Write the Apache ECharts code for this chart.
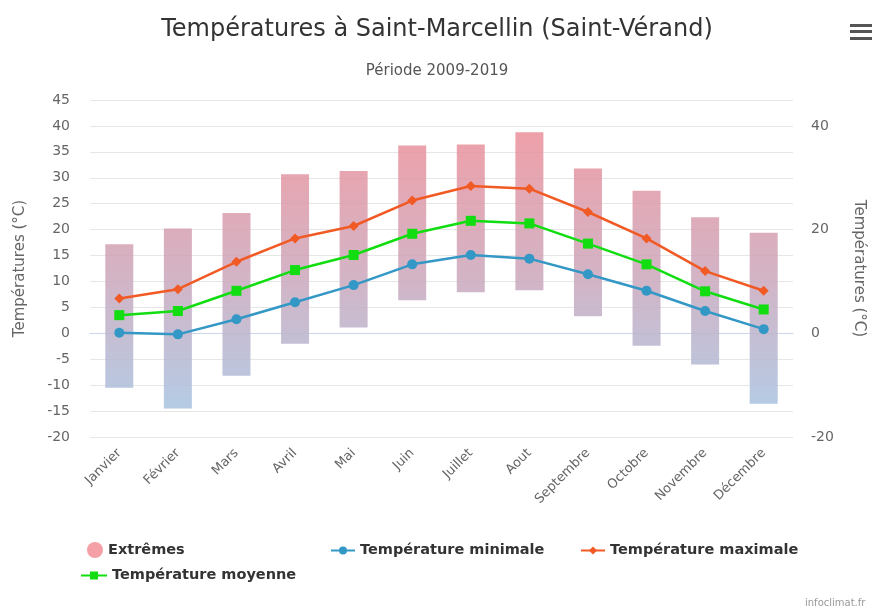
<!DOCTYPE html>
<html>
<head>
<meta charset="utf-8">
<script src="https://cdn.jsdelivr.net/npm/echarts@6/dist/echarts.min.js"></script>
<style>
html, body { margin: 0; padding: 0; background: #fff; }
#main { width: 874px; height: 607px; }
</style>
</head>
<body>
<div id="main"></div>
<script>
// données
var mois = ['Janvier', 'Février', 'Mars', 'Avril', 'Mai', 'Juin', 'Juillet', 'Aout', 'Septembre', 'Octobre', 'Novembre', 'Décembre'];
var extremeBas = [-10.5, -14.5, -8.2, -2.0, 1.1, 6.4, 7.9, 8.3, 3.3, -2.4, -6.0, -13.6];
var extremeHaut = [17.2, 20.2, 23.2, 30.7, 31.3, 36.2, 36.4, 38.8, 31.8, 27.5, 22.4, 19.4];
var tempMin = [0.1, -0.2, 2.7, 6.0, 9.3, 13.3, 15.1, 14.4, 11.4, 8.2, 4.3, 0.8];
var tempMax = [6.7, 8.5, 13.8, 18.3, 20.7, 25.6, 28.4, 27.9, 23.4, 18.3, 12.0, 8.2];
var tempMoy = [3.5, 4.3, 8.2, 12.2, 15.1, 19.2, 21.7, 21.2, 17.3, 13.3, 8.1, 4.6];

var ecart = [];
for (var i = 0; i < mois.length; i++) {
	ecart.push(+(extremeHaut[i] - extremeBas[i]).toFixed(1));
}

var myChart = echarts.init(document.getElementById('main'));

var police = 'DejaVu Sans';
var legendeTexte = { color: '#333', fontWeight: 'bold', fontSize: 14.5, fontFamily: police };

var option = {
	animation: false,
	title: [
		{
			text: 'Températures à Saint-Marcellin (Saint-Vérand)',
			left: 'center', top: 13,
			textStyle: { fontSize: 24, fontWeight: 'normal', color: '#333', fontFamily: police }
		},
		{
			text: 'Période 2009-2019',
			left: 'center', top: 59,
			textStyle: { fontSize: 15, fontWeight: 'normal', color: '#555', fontFamily: police }
		}
	],
	graphic: [
		{ type: 'rect', shape: { x: 850, y: 24, width: 22, height: 3 }, style: { fill: '#555' } },
		{ type: 'rect', shape: { x: 850, y: 30, width: 22, height: 3 }, style: { fill: '#555' } },
		{ type: 'rect', shape: { x: 850, y: 37, width: 22, height: 3 }, style: { fill: '#555' } },
		{ type: 'text', left: 805, top: 598, style: { text: 'infoclimat.fr', fill: '#999', fontSize: 10, fontFamily: police } }
	],
	legend: [
		{ left: 87, top: 542, padding: 0, itemWidth: 16, itemHeight: 16, textStyle: legendeTexte,
		  data: [{ name: 'Extrêmes', icon: 'circle', itemStyle: { color: '#f4a0a6' } }] },
		{ left: 330, top: 543, padding: 0, itemWidth: 24, itemHeight: 10, textStyle: legendeTexte,
		  data: ['Température minimale'] },
		{ left: 580, top: 543, padding: 0, itemWidth: 24, itemHeight: 10, textStyle: legendeTexte,
		  data: ['Température maximale'] },
		{ left: 80, top: 568, padding: 0, itemWidth: 26, itemHeight: 10, textStyle: legendeTexte,
		  data: ['Température moyenne'] }
	],
	grid: { left: 90, right: 81, top: 100, bottom: 170 },
	xAxis: {
		type: 'category',
		data: mois,
		axisLine: { lineStyle: { color: '#ccd6eb' } },
		axisTick: { length: 10, lineStyle: { color: '#ccd6eb' } },
		axisLabel: { rotate: 45, color: '#666', fontSize: 13, fontFamily: police, margin: 14 }
	},
	yAxis: [
		{
			type: 'value', min: -20, max: 45, interval: 5,
			name: 'Températures (°C)', nameLocation: 'middle', nameGap: 62,
			nameTextStyle: { color: '#666', fontSize: 15, fontFamily: police },
			axisLabel: { color: '#666', fontSize: 14, fontFamily: police, margin: 20 },
			splitLine: { lineStyle: { color: '#e6e6e6' } }
		},
		{
			type: 'value', min: -20, max: 45, interval: 20, position: 'right',
			name: 'Températures (°C)', nameLocation: 'middle', nameGap: 58, nameRotate: 270,
			nameTextStyle: { color: '#666', fontSize: 15, fontFamily: police },
			axisLabel: {
				color: '#666', fontSize: 14, fontFamily: police, margin: 18,
				formatter: function (v) { return v % 20 === 0 ? v : ''; }
			},
			splitLine: { show: false }
		}
	],
	series: [
		{
			name: 'base', type: 'bar', stack: 'ext', stackStrategy: 'all',
			barWidth: 28, silent: true,
			itemStyle: { color: 'rgba(0,0,0,0)' },
			data: extremeBas
		},
		{
			name: 'Extrêmes', type: 'bar', stack: 'ext', stackStrategy: 'all',
			barWidth: 28,
			itemStyle: {
				color: {
					type: 'linear', x: 0, y: 100, x2: 0, y2: 437, global: true,
					colorStops: [
						{ offset: 0, color: 'rgba(242,138,146,0.85)' },
						{ offset: 0.5, color: 'rgba(205,165,185,0.85)' },
						{ offset: 1, color: 'rgba(160,200,232,0.85)' }
					]
				}
			},
			data: ecart
		},
		{
			name: 'Température minimale', type: 'line',
			symbol: 'circle', symbolSize: 10,
			itemStyle: { color: '#3398c6' },
			lineStyle: { width: 2.5 },
			data: tempMin
		},
		{
			name: 'Température maximale', type: 'line',
			symbol: 'diamond', symbolSize: 10,
			itemStyle: { color: '#f15a24' },
			lineStyle: { width: 2.5 },
			data: tempMax
		},
		{
			name: 'Température moyenne', type: 'line',
			symbol: 'rect', symbolSize: 10,
			itemStyle: { color: '#11dd11' },
			lineStyle: { width: 2.5 },
			data: tempMoy
		}
	]
};

myChart.setOption(option);
</script>
</body>
</html>
